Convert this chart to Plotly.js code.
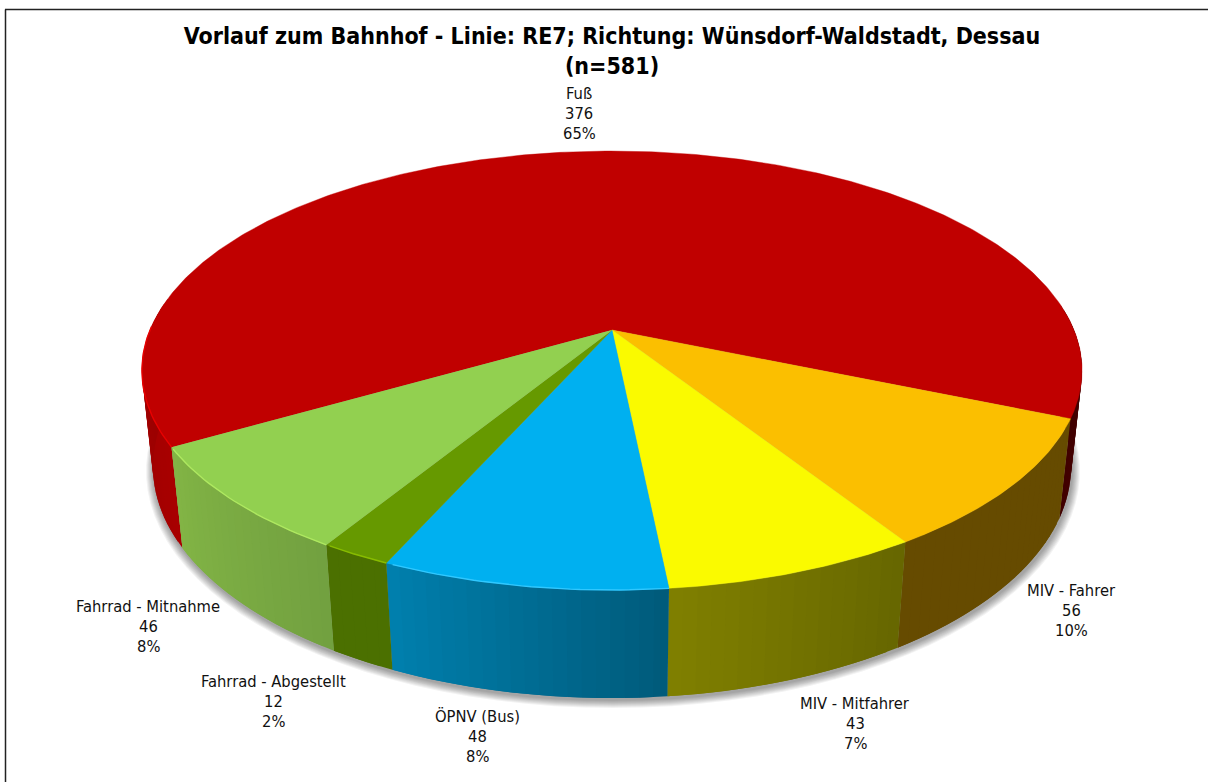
<!DOCTYPE html>
<html><head><meta charset="utf-8">
<script src="https://cdn.plot.ly/plotly-3.0.1.min.js"></script>
<style>html,body{margin:0;padding:0;background:#fff}#c{width:1208px;height:782px}</style>
</head><body><div id="c"></div>
<script>
const categories = ['Fuß','MIV - Fahrer','MIV - Mitfahrer','ÖPNV (Bus)','Fahrrad - Abgestellt','Fahrrad - Mitnahme'];
const values = [376,56,43,48,12,46];
const topColors = ['#C00000','#FBBF00','#FAFA00','#00B0F0','#669900','#92D050'];
const wallStart = ['#A80000','#664B00','#666600','#005A7A','#4B7000','#72A040'];
const wallEnd   = ['#400000','#664B00','#808000','#0080AE','#4B7000','#82B545'];
const rimColors = ['#E80000',null,null,'#30C8FF','#88BC00','#AEE860'];
const labelX = [579,1071,855,477,273,148];
const labelY = [113,610,723,736,701,626];
const titleText = 'Vorlauf zum Bahnhof - Linie: RE7; Richtung: Wünsdorf-Waldstadt, Dessau<br>(n=581)\u00A0\u00A0';

// projection of the pie disc (unit circle, seen in perspective)
const CX=612, CY=330, R=462, S=212, P=0.1845, Q=0.023, D=96.6, START=210.1;
const rad=d=>d*Math.PI/180;
const topPt=a=>{const x=Math.cos(rad(a)),y=Math.sin(rad(a)),w=1+P*y;return [CX+R*x/w,CY-S*y/w];};
const botPt=a=>{const x=Math.cos(rad(a)),y=Math.sin(rad(a)),w=1+P*y+Q;return [CX+R*x/w,CY-(S*y-D)/w];};
const hex=c=>[1,3,5].map(i=>parseInt(c.substr(i,2),16));
const mix=(a,b,t)=>{const A=hex(a),B=hex(b);return 'rgb('+A.map((v,i)=>Math.round(v+(B[i]-v)*t)).join(',')+')';};
const total=values.reduce((s,v)=>s+v,0);
const traces=[];
const poly=(pts,color,lw)=>traces.push({type:'scatter',mode:'lines',x:pts.map(p=>p[0]),y:pts.map(p=>p[1]),fill:'toself',fillcolor:color,line:{color:lw?color:'rgba(0,0,0,0)',width:lw||0},hoverinfo:'skip',showlegend:false});

// soft shadow under the body
for(let k=8;k>=1;k--){
  const pts=[];
  for(let a=0;a<360;a+=3){const p=botPt(a);pts.push([CX+1+(p[0]-CX)*(1+k/470),CY+2+(p[1]-CY)*(1+k/370)]);}
  poly(pts,'rgba(0,0,0,0.05)');
}
// side wall strips, each running under the next so no seams show
let ang=START;
const spans=values.map(v=>{const s=v/total*360,r=[ang,ang-s];ang-=s;return r;});
spans.forEach((sp,i)=>{
  const n=Math.ceil((sp[0]-sp[1])/1.5), step=(sp[0]-sp[1])/n;
  for(let j=0;j<n;j++){
    const a0=sp[0]-step*j;
    if(Math.sin(rad(a0-step/2))>0.12) continue;
    const pts=[],m=j<n-1?2:1;
    for(let q=0;q<=m;q++) pts.push(topPt(a0-step*q));
    for(let q=m;q>=0;q--) pts.push(botPt(a0-step*q));
    poly(pts,mix(wallStart[i],wallEnd[i],(j+0.5)/n));
  }
});
// top faces and rim highlights
spans.forEach((sp,i)=>{
  const pts=[[CX,CY]],n=Math.ceil((sp[0]-sp[1])*1.5);
  for(let j=0;j<=n;j++) pts.push(topPt(sp[0]-(sp[0]-sp[1])*j/n));
  poly(pts,topColors[i],0.4);
});
spans.forEach((sp,i)=>{
  if(!rimColors[i]) return;
  const pts=[];
  for(let a=sp[0];a>=sp[1];a-=1){ if(Math.sin(rad(a))>=0.03) break; pts.push(topPt(a)); }
  traces.push({type:'scatter',mode:'lines',x:pts.map(p=>p[0]),y:pts.map(p=>p[1]),line:{color:rimColors[i],width:1.4},hoverinfo:'skip',showlegend:false});
});
const fam='"DejaVu Sans Condensed","DejaVu Sans",sans-serif';
const font={family:fam,size:16.4,color:'#111'};
const annotations=[];
categories.forEach((c,i)=>{
  [c,String(values[i]),Math.round(values[i]/total*100)+'%'].forEach((t,l)=>{
    annotations.push({xref:'x',yref:'y',x:labelX[i],y:labelY[i]+(l-1)*20,xanchor:'center',yanchor:'middle',showarrow:false,align:'center',text:t,font:font});
  });
});
const layout={width:1208,height:782,margin:{l:0,r:0,t:0,b:0},paper_bgcolor:'#fff',plot_bgcolor:'#fff',showlegend:false,
  title:{text:titleText,x:612/1208,xanchor:'center',y:1-44/782,yanchor:'middle',font:{family:fam,size:23,color:'#000',weight:700}},
  xaxis:{range:[0,1208],visible:false,fixedrange:true},yaxis:{range:[782,0],visible:false,fixedrange:true},
  annotations:annotations,
  shapes:[{type:'line',xref:'x',yref:'y',x0:5.5,x1:5.5,y0:9.5,y1:782,line:{color:'#222',width:1.5}},
          {type:'line',xref:'x',yref:'y',x0:5,x1:1208,y0:9.5,y1:9.5,line:{color:'#222',width:1.5}}]};
Plotly.newPlot('c',traces,layout,{displayModeBar:false,staticPlot:true});
</script></body></html>
